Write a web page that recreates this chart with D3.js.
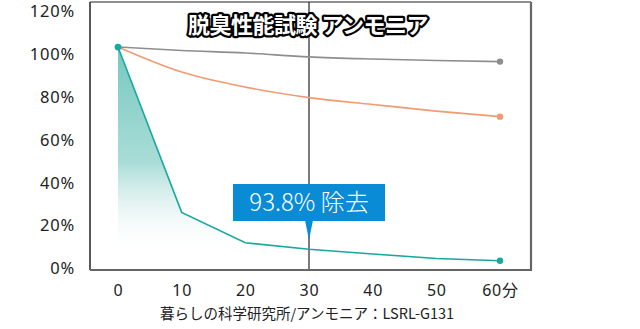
<!DOCTYPE html>
<html>
<head>
<meta charset="utf-8">
<script src="https://cdn.jsdelivr.net/npm/d3@7"></script>
<style>
  html, body { margin: 0; padding: 0; background: #fff; }
  svg { display: block; font-family: "Noto Sans CJK JP", "Noto Sans", sans-serif; }
</style>
</head>
<body>
<svg id="chart" width="640" height="329"></svg>
<script>
// ---- data ----
const minutes = [0, 10, 20, 30, 40, 50, 60];
const xTickLabels = ["0", "10", "20", "30", "40", "50", "60分"];
const yTicks = [0, 20, 40, 60, 80, 100, 120];
const grayValues = [102.7, 101.1, 99.9, 98.1, 97.1, 96.4, 95.9];
const orangeValues = [102.7, 91.0, 84.0, 79.1, 75.9, 72.8, 70.2];
const tealValues = [102.7, 25.5, 11.3, 8.3, 6.1, 4.0, 2.9];
const titleText = "脱臭性能試験 アンモニア";
const calloutText = "93.8% 除去";
const calloutMinute = 30;
const sourceText = "暮らしの科学研究所/アンモニア：LSRL-G131";

// ---- layout ----
const svg = d3.select("#chart");
const frame = { left: 90, top: 2, right: 531, bottom: 270 };
const x = d3.scaleLinear().domain([0, 60]).range([118, 500]);
const y = d3.scaleLinear().domain([0, 120]).range([267, 10]);

const colors = { gray: "#8e8e8e", orange: "#f29a72", teal: "#17a99f", callout: "#0a8bd6" };

// gradient
const defs = svg.append("defs");
const grad = defs.append("linearGradient").attr("id", "tealGrad")
  .attr("gradientUnits", "userSpaceOnUse")
  .attr("x1", 0).attr("x2", 0).attr("y1", y(102.7)).attr("y2", y(5));
grad.append("stop").attr("offset", 0).attr("stop-color", "#6ec6bd").attr("stop-opacity", 0.95);
grad.append("stop").attr("offset", 0.55).attr("stop-color", "#9fd8d2").attr("stop-opacity", 0.9);
grad.append("stop").attr("offset", 1).attr("stop-color", "#ffffff").attr("stop-opacity", 0);

// area under teal
const tealData = minutes.map((m, i) => ({ m, v: tealValues[i] }));
const area = d3.area().x(d => x(d.m)).y0(y(5)).y1(d => Math.min(y(d.v), y(5)));
svg.append("path").datum(tealData).attr("d", area).attr("fill", "url(#tealGrad)");

// vertical line at 30 min
svg.append("line")
  .attr("x1", x(calloutMinute)).attr("x2", x(calloutMinute))
  .attr("y1", frame.top).attr("y2", frame.bottom)
  .attr("stroke", "#5a5a5a").attr("stroke-width", 1.6);

// frame
svg.append("line").attr("x1", frame.left).attr("x2", frame.right).attr("y1", frame.top).attr("y2", frame.top)
  .attr("stroke", "#222").attr("stroke-width", 1.2);
svg.append("line").attr("x1", frame.left).attr("x2", frame.left).attr("y1", frame.top).attr("y2", frame.bottom)
  .attr("stroke", "#222").attr("stroke-width", 1.5);
svg.append("line").attr("x1", frame.left).attr("x2", frame.right + 1).attr("y1", frame.bottom).attr("y2", frame.bottom)
  .attr("stroke", "#666").attr("stroke-width", 2.2);
svg.append("line").attr("x1", frame.right).attr("x2", frame.right).attr("y1", frame.top).attr("y2", frame.bottom)
  .attr("stroke", "#666").attr("stroke-width", 2.2);

// lines
function drawSeries(values, color, curve) {
  const data = minutes.map((m, i) => ({ m, v: values[i] }));
  const line = d3.line().x(d => x(d.m)).y(d => y(d.v)).curve(curve);
  svg.append("path").datum(data).attr("d", line)
    .attr("fill", "none").attr("stroke", color).attr("stroke-width", 1.6);
  svg.append("circle").attr("cx", x(data[data.length - 1].m)).attr("cy", y(data[data.length - 1].v))
    .attr("r", 3.2).attr("fill", color);
}
drawSeries(grayValues, colors.gray, d3.curveMonotoneX);
drawSeries(orangeValues, colors.orange, d3.curveMonotoneX);
drawSeries(tealValues, colors.teal, d3.curveLinear);
svg.append("circle").attr("cx", x(0)).attr("cy", y(tealValues[0])).attr("r", 3.4).attr("fill", colors.teal);

// axes
const yAxis = svg.append("g").attr("transform", `translate(75,1)`)
  .call(d3.axisLeft(y).tickValues(yTicks).tickSize(0).tickPadding(0).tickFormat(d => d + "%"));
yAxis.select(".domain").remove();
yAxis.selectAll("text").attr("font-size", 16.5).attr("fill", "#222").attr("letter-spacing", "0.8px")
  .attr("font-family", "'Noto Sans', 'Noto Sans CJK JP', sans-serif").attr("dy", "0.35em");

const xAxis = svg.append("g").attr("transform", `translate(0,290)`)
  .call(d3.axisBottom(x).tickValues(minutes).tickSize(0).tickPadding(0).tickFormat((d, i) => xTickLabels[i]));
xAxis.select(".domain").remove();
xAxis.selectAll("text").attr("font-size", 16).attr("fill", "#222").attr("letter-spacing", "0.8px")
  .attr("font-family", "'Noto Sans', 'Noto Sans CJK JP', sans-serif").attr("dy", "0.35em");

// title
svg.append("text").attr("x", 308).attr("y", 33).attr("text-anchor", "middle")
  .attr("font-size", 22).attr("font-weight", "bold").attr("fill", "#fff")
  .attr("stroke", "#000").attr("stroke-width", 4.5).attr("stroke-linejoin", "round")
  .attr("paint-order", "stroke").attr("letter-spacing", "-0.5px")
  .text(titleText);

// callout
const cx = x(calloutMinute);
const boxTop = 184, boxBottom = 221, boxW = 152;
svg.append("rect").attr("x", cx - boxW / 2).attr("y", boxTop).attr("width", boxW).attr("height", boxBottom - boxTop)
  .attr("fill", colors.callout);
svg.append("path")
  .attr("d", `M${cx - 4},${boxBottom - 1} L${cx + 4},${boxBottom - 1} L${cx},${y(tealValues[3]) - 9} Z`)
  .attr("fill", colors.callout);
svg.append("text").attr("x", cx).attr("y", 211).attr("text-anchor", "middle")
  .attr("font-size", 24).attr("fill", "#fff").attr("font-weight", 300)
  .text(calloutText);

// source
svg.append("text").attr("x", 307).attr("y", 318.5).attr("text-anchor", "middle")
  .attr("font-size", 14.5).attr("fill", "#222")
  .text(sourceText);
</script>
</body>
</html>
